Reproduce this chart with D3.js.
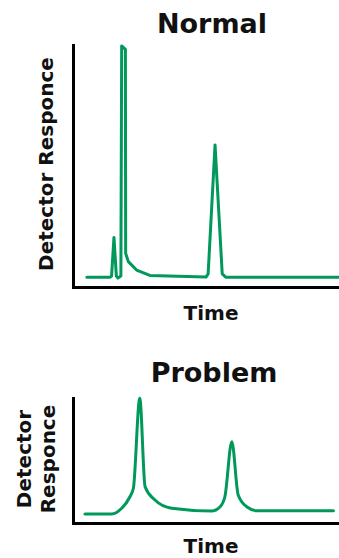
<!DOCTYPE html>
<html>
<head>
<meta charset="utf-8">
<script src="https://cdn.jsdelivr.net/npm/d3@7"></script>
<style>
  html, body { margin: 0; padding: 0; background: #fff; }
  svg { display: block; }
  text { font-family: "DejaVu Sans", Verdana, sans-serif; font-weight: bold; fill: #111; }
</style>
</head>
<body>
<svg id="chart" width="339" height="558"></svg>
<script>
// ---- Data (time in arbitrary units 0-100, detector response 0-100) ----
const titles = ["Normal", "Problem"];
const xLabel = "Time";
const yLabel = ["Detector", "Responce"];

const normalTime = [5.2, 13.9, 14.5, 15.4, 16.3, 16.9, 18.0, 18.3, 19.7, 19.8, 20.8, 23.9, 28.9, 50.0, 50.8, 53.4, 56.1, 57.5, 100];
const normalResp = [4.0, 4.0, 4.5, 20.5, 4.5, 3.7, 4.5, 99.6, 98.2, 13.9, 10.5, 7.0, 4.8, 4.1, 5.4, 58.7, 5.4, 4.0, 4.0];

const problemTime = [4.5, 14.5, 18.3, 21.4, 22.7, 25.1, 27.1, 30.8, 37.1, 52.1, 55.3, 57.1, 59.7, 62.1, 65.3, 69.1, 97.9];
const problemResp = [7.2, 7.2, 11.8, 21.0, 27.8, 99.8, 29.0, 18.4, 11.8, 9.6, 13.0, 21.0, 65.0, 22.4, 13.0, 9.8, 9.8];

const lineColor = "#00995a";

const svg = d3.select("#chart");

function panel(cfg) {
  const x = d3.scaleLinear().domain([0, 100]).range([73, 339]);
  const y = d3.scaleLinear().domain([0, 100]).range([cfg.bottom, cfg.top]);

  const data = cfg.time.map((t, i) => ({ t, r: cfg.resp[i] }));

  // axes (domain lines only)
  const ax = svg.append("g").attr("transform", `translate(0,${cfg.bottom})`)
    .call(d3.axisBottom(x).tickValues([]).tickSizeOuter(0));
  const ay = svg.append("g").attr("transform", `translate(73,0)`)
    .call(d3.axisLeft(y).tickValues([]).tickSizeOuter(0));
  [ax, ay].forEach(g => g.select(".domain")
    .attr("stroke", "#000").attr("stroke-width", 3).attr("stroke-linecap", "square"));

  svg.append("path")
    .datum(data)
    .attr("fill", "none")
    .attr("stroke", lineColor)
    .attr("stroke-width", 3)
    .attr("stroke-linejoin", "round")
    .attr("stroke-linecap", "round")
    .attr("d", d3.line().x(d => x(d.t)).y(d => y(d.r)).curve(cfg.curve));

  svg.append("text")
    .attr("x", cfg.titleX).attr("y", cfg.titleY)
    .attr("text-anchor", "middle").attr("font-size", 27)
    .text(cfg.title);

  svg.append("text")
    .attr("x", 211).attr("y", cfg.xLabelY)
    .attr("text-anchor", "middle").attr("font-size", 20)
    .text(xLabel);
}

panel({ title: titles[0], time: normalTime, resp: normalResp, top: 45, bottom: 287,
  titleX: 212, titleY: 33, xLabelY: 320, curve: d3.curveLinear });
panel({ title: titles[1], time: problemTime, resp: problemResp, top: 398, bottom: 523,
  titleX: 214, titleY: 382, xLabelY: 553, curve: d3.curveMonotoneX });

// y labels
svg.append("text")
  .attr("transform", "translate(53,164) rotate(-90)")
  .attr("text-anchor", "middle").attr("font-size", 20)
  .text(yLabel.join(" "));

const yl2 = svg.append("text")
  .attr("transform", "translate(30.5,459) rotate(-90)")
  .attr("text-anchor", "middle").attr("font-size", 20);
yl2.append("tspan").attr("x", 0).attr("dy", 0).text(yLabel[0]);
yl2.append("tspan").attr("x", 0).attr("dy", 24).text(yLabel[1]);
</script>
</body>
</html>
